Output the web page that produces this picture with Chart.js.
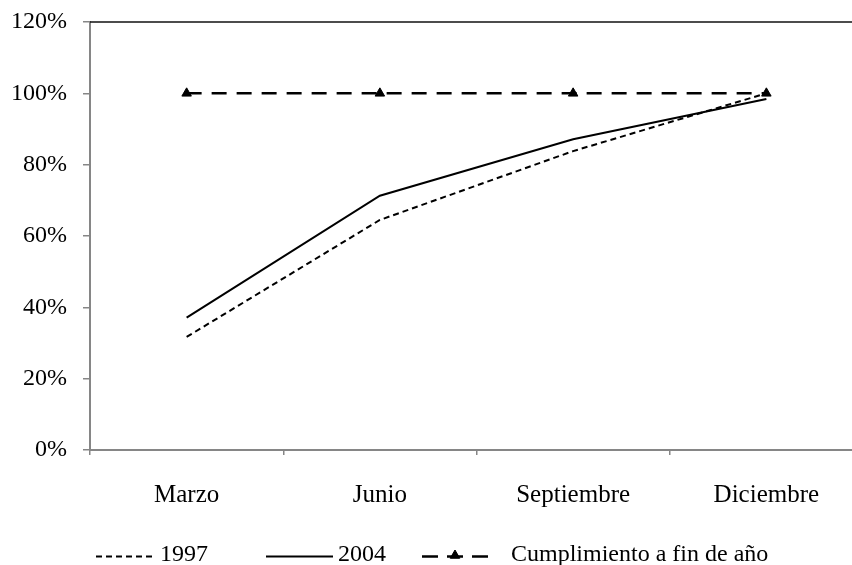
<!DOCTYPE html>
<html lang="es">
<head>
<meta charset="utf-8">
<title>Cumplimiento acumulado</title>
<script src="https://cdn.jsdelivr.net/npm/chart.js@4/dist/chart.umd.min.js"></script>
<style>
  html, body { margin: 0; padding: 0; overflow: hidden; background: #fff; }
  #wrap { width: 880px; height: 565px; position: relative; }
</style>
</head>
<body>
<div id="wrap"><canvas id="chart"></canvas></div>
<script>
// Trimestres
const categories = ['Marzo', 'Junio', 'Septiembre', 'Diciembre'];
// Avance acumulado (%)
const serie1997 = [31.7, 64.5, 83.8, 100];
const serie2004 = [37.1, 71.3, 87.1, 98.4];
const cumplimiento = [100, 100, 100, 100];
// Marcas del eje vertical
const yTicks = [0, 20, 40, 60, 80, 100, 120];

const AXIS_GRAY = '#868686';
const SERIF = '"Liberation Serif", "Times New Roman", serif';

// Top frame line of the plot area
const topFrame = {
  id: 'topFrame',
  beforeDatasetsDraw(chart) {
    const { ctx, chartArea } = chart;
    ctx.save();
    ctx.strokeStyle = '#111';
    ctx.lineWidth = 1.5;
    ctx.beginPath();
    ctx.moveTo(chartArea.left, chartArea.top);
    ctx.lineTo(chart.width, chartArea.top);
    ctx.stroke();
    ctx.restore();
  }
};

// Category labels and legend drawn under the axis
const bottomLabels = {
  id: 'bottomLabels',
  afterDraw(chart) {
    const { ctx } = chart;
    const xs = chart.scales.x;
    ctx.save();
    ctx.fillStyle = '#000';
    ctx.textBaseline = 'alphabetic';
    ctx.textAlign = 'center';
    ctx.font = '25px ' + SERIF;
    categories.forEach((c, i) => {
      ctx.fillText(c, xs.getPixelForValue(i), 502);
    });

    // Legend
    const items = [
      { x0: 96, x1: 152, tx: 160 },
      { x0: 266, x1: 333, tx: 338 },
      { x0: 422, x1: 488, tx: 511 }
    ];
    const ly = 556.5;
    ctx.font = '24px ' + SERIF;
    ctx.textAlign = 'left';
    chart.data.datasets.forEach((ds, i) => {
      const it = items[i];
      ctx.save();
      ctx.strokeStyle = ds.borderColor;
      ctx.lineWidth = ds.borderWidth;
      ctx.setLineDash(ds.legendDash || ds.borderDash || []);
      ctx.beginPath();
      ctx.moveTo(it.x0, ly);
      ctx.lineTo(it.x1, ly);
      ctx.stroke();
      ctx.setLineDash([]);
      if (ds.pointRadius > 0) {
        ctx.fillStyle = ds.pointBackgroundColor;
        ctx.strokeStyle = ds.pointBorderColor;
        ctx.lineWidth = 1;
        Chart.helpers.drawPoint(ctx, { pointStyle: 'triangle', radius: ds.pointRadius, rotation: 0, borderWidth: 1 }, (it.x0 + it.x1) / 2, ly - 1);
      }
      ctx.restore();
      ctx.fillText(ds.label, it.tx, 561);
    });
    ctx.restore();
  }
};

new Chart(document.getElementById('chart'), {
  type: 'line',
  data: {
    labels: categories,
    datasets: [
      {
        label: '1997',
        data: serie1997,
        borderColor: '#000',
        borderWidth: 2,
        borderDash: [6, 4],
        pointRadius: 0,
        tension: 0,
        fill: false
      },
      {
        label: '2004',
        data: serie2004,
        borderColor: '#000',
        borderWidth: 2,
        pointRadius: 0,
        tension: 0,
        fill: false
      },
      {
        label: 'Cumplimiento a fin de año',
        data: cumplimiento,
        borderColor: '#000',
        borderWidth: 2.5,
        borderDash: [15, 10],
        legendDash: [16, 9],
        pointStyle: 'triangle',
        pointRadius: 5.5,
        pointBackgroundColor: '#000',
        pointBorderColor: '#000',
        pointBorderWidth: 1,
        tension: 0,
        fill: false
      }
    ]
  },
  options: {
    responsive: true,
    maintainAspectRatio: false,
    animation: false,
    devicePixelRatio: 1,
    layout: { padding: { top: 22, right: 17, bottom: 0, left: 0 } },
    plugins: {
      legend: { display: false },
      tooltip: { enabled: false }
    },
    scales: {
      x: {
        type: 'category',
        offset: true,
        border: { display: true, color: AXIS_GRAY, width: 2 },
        grid: {
          display: true,
          offset: true,
          drawOnChartArea: false,
          drawTicks: true,
          tickLength: 5,
          color: AXIS_GRAY,
          lineWidth: 1.5
        },
        ticks: { display: false },
        afterFit(scale) { scale.height = 115; }
      },
      y: {
        min: 0,
        max: 120,
        border: { display: true, color: AXIS_GRAY, width: 2 },
        grid: {
          display: true,
          drawOnChartArea: false,
          drawTicks: true,
          tickLength: 7,
          color: AXIS_GRAY,
          lineWidth: 1.5
        },
        afterBuildTicks(scale) {
          scale.ticks = yTicks.map(v => ({ value: v }));
        },
        ticks: {
          color: '#000',
          padding: 16,
          font: { family: SERIF, size: 24 },
          callback: v => v + '%'
        },
        afterFit(scale) {
          scale.width = 90;
          scale.paddingTop = 0;
          scale.paddingBottom = 0;
        }
      }
    }
  },
  plugins: [topFrame, bottomLabels]
});
</script>
</body>
</html>
